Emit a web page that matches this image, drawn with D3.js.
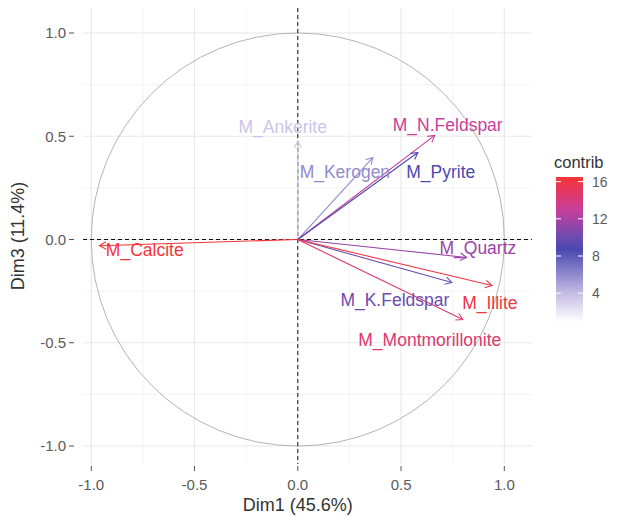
<!DOCTYPE html>
<html>
<head>
<meta charset="utf-8">
<script src="https://cdnjs.cloudflare.com/ajax/libs/d3/7.8.5/d3.min.js"></script>
<style>
  html, body { margin: 0; padding: 0; background: #fff; }
  svg { display: block; font-family: "Liberation Sans", Arial, sans-serif; }
</style>
</head>
<body>
<svg id="chart" width="619" height="516"></svg>
<script>
// ---- data ----
const variables = ["M_Calcite", "M_Ankerite", "M_Kerogen", "M_N.Feldspar", "M_Pyrite",
                   "M_Quartz", "M_K.Feldspar", "M_Illite", "M_Montmorillonite"];
const dim1 = [-0.96, 0.00, 0.363, 0.663, 0.581, 0.818, 0.746, 0.940, 0.799];
const dim3 = [-0.03, 0.475, 0.397, 0.504, 0.421, -0.087, -0.208, -0.223, -0.387];
const contrib = [16.4, 3.6, 6.0, 13.0, 8.8, 11.5, 10.0, 16.0, 14.5];
// label anchor positions (data units, as placed by repel)
const labelX = [-0.741, -0.073, 0.228, 0.726, 0.692, 0.872, 0.470, 0.930, 0.639];
const labelY = [-0.048, 0.547, 0.329, 0.557, 0.329, -0.039, -0.291, -0.305, -0.484];
const axisTicks = [-1.0, -0.5, 0.0, 0.5, 1.0];
const minorTicks = [-0.75, -0.25, 0.25, 0.75];
const legendTicks = [4, 8, 12, 16];
const contribRange = [0.9, 16.5];
const gradStops = [0.9, 4, 8.7, 10, 11.5, 13, 14.5, 16.5];
const gradColors = ["#ffffff", "#c4bce4", "#4a48b0", "#6c4cb0", "#9a44a8", "#c8409a", "#dc3870", "#f63434"];
const xTitle = "Dim1 (45.6%)";
const yTitle = "Dim3 (11.4%)";
const legendTitle = "contrib";

// ---- layout ----
const svg = d3.select("#chart");
const panel = { left: 83, right: 532, top: 8, bottom: 464 };
const x = d3.scaleLinear().domain([-1.04, 1.134]).range([panel.left, panel.right]);
const y = d3.scaleLinear().domain([-1.087, 1.121]).range([panel.bottom, panel.top]);

const color = d3.scaleLinear().domain(gradStops).range(gradColors).interpolate(d3.interpolateRgb).clamp(true);

// grid
const g = svg.append("g");
g.selectAll(".vminor").data(minorTicks).join("line")
  .attr("x1", d => x(d)).attr("x2", d => x(d))
  .attr("y1", panel.top).attr("y2", panel.bottom)
  .attr("stroke", "#f0f0f0").attr("stroke-width", 0.8);
g.selectAll(".hminor").data(minorTicks).join("line")
  .attr("y1", d => y(d)).attr("y2", d => y(d))
  .attr("x1", panel.left).attr("x2", panel.right)
  .attr("stroke", "#f0f0f0").attr("stroke-width", 0.8);
g.selectAll(".vmajor").data(axisTicks).join("line")
  .attr("x1", d => x(d)).attr("x2", d => x(d))
  .attr("y1", panel.top).attr("y2", panel.bottom)
  .attr("stroke", "#e8e8e8").attr("stroke-width", 1.1);
g.selectAll(".hmajor").data(axisTicks).join("line")
  .attr("y1", d => y(d)).attr("y2", d => y(d))
  .attr("x1", panel.left).attr("x2", panel.right)
  .attr("stroke", "#e8e8e8").attr("stroke-width", 1.1);

// circle
svg.append("ellipse")
  .attr("cx", x(0)).attr("cy", y(0))
  .attr("rx", x(1) - x(0)).attr("ry", y(0) - y(1))
  .attr("fill", "none").attr("stroke", "#b4b4b4").attr("stroke-width", 1);

// dashed axes
svg.append("line").attr("x1", panel.left).attr("x2", panel.right)
  .attr("y1", y(0)).attr("y2", y(0))
  .attr("stroke", "#111").attr("stroke-width", 1).attr("stroke-dasharray", "4,3");
svg.append("line").attr("y1", panel.top).attr("y2", panel.bottom)
  .attr("x1", x(0)).attr("x2", x(0))
  .attr("stroke", "#111").attr("stroke-width", 1).attr("stroke-dasharray", "4,3");

// arrows
const data = variables.map((v, i) => ({ name: v, x: dim1[i], y: dim3[i], c: contrib[i], lx: labelX[i], ly: labelY[i] }));
const arrowG = svg.append("g");
data.forEach(d => {
  const x0 = x(0), y0 = y(0), x1 = x(d.x), y1 = y(d.y);
  const col = color(d.c);
  arrowG.append("line").attr("x1", x0).attr("y1", y0).attr("x2", x1).attr("y2", y1)
    .attr("stroke", col).attr("stroke-width", 1.1);
  const ang = Math.atan2(y1 - y0, x1 - x0);
  const L = 7.5, a = Math.PI / 6;
  const p1 = [x1 - L * Math.cos(ang - a), y1 - L * Math.sin(ang - a)];
  const p2 = [x1 - L * Math.cos(ang + a), y1 - L * Math.sin(ang + a)];
  arrowG.append("path")
    .attr("d", `M${p1[0]},${p1[1]}L${x1},${y1}L${p2[0]},${p2[1]}`)
    .attr("fill", "none").attr("stroke", col).attr("stroke-width", 1.1);
});
svg.append("g").selectAll("text").data(data).join("text")
  .attr("x", d => x(d.lx)).attr("y", d => y(d.ly))
  .attr("dy", "0.36em").attr("text-anchor", "middle")
  .attr("font-size", 17.5).attr("fill", d => color(d.c))
  .text(d => d.name);

// axes ticks and labels
const fmt = v => v.toFixed(1);
const axG = svg.append("g");
axisTicks.forEach(t => {
  axG.append("line").attr("x1", 69).attr("x2", 74).attr("y1", y(t)).attr("y2", y(t))
    .attr("stroke", "#555").attr("stroke-width", 1);
  axG.append("text").attr("x", 66).attr("y", y(t)).attr("dy", "0.36em")
    .attr("text-anchor", "end").attr("font-size", 15).attr("fill", "#5a5a5a")
    .text(fmt(t));
  axG.append("line").attr("y1", 466).attr("y2", 471).attr("x1", x(t)).attr("x2", x(t))
    .attr("stroke", "#555").attr("stroke-width", 1);
  axG.append("text").attr("x", x(t)).attr("y", 490)
    .attr("text-anchor", "middle").attr("font-size", 15).attr("fill", "#5a5a5a")
    .text(fmt(t));
});
svg.append("text").attr("x", x(0)).attr("y", 511).attr("text-anchor", "middle")
  .attr("font-size", 18).attr("fill", "#333").text(xTitle);
svg.append("text").attr("transform", `translate(24,${(panel.top + panel.bottom) / 2}) rotate(-90)`)
  .attr("text-anchor", "middle").attr("font-size", 18).attr("fill", "#333").text(yTitle);

// legend
const leg = { x: 556, w: 27, top: 177, bottom: 322 };
const ly = d3.scaleLinear().domain(contribRange).range([leg.bottom, leg.top]);
const defs = svg.append("defs");
const grad = defs.append("linearGradient").attr("id", "cgrad")
  .attr("x1", 0).attr("y1", 1).attr("x2", 0).attr("y2", 0);
d3.range(0, 1.0001, 0.025).forEach(f => {
  const v = contribRange[0] + f * (contribRange[1] - contribRange[0]);
  grad.append("stop").attr("offset", f).attr("stop-color", color(v));
});
svg.append("rect").attr("x", leg.x).attr("y", leg.top).attr("width", leg.w)
  .attr("height", leg.bottom - leg.top).attr("fill", "url(#cgrad)");
legendTicks.forEach(t => {
  svg.append("line").attr("x1", leg.x).attr("x2", leg.x + 5).attr("y1", ly(t)).attr("y2", ly(t))
    .attr("stroke", "#fff").attr("stroke-width", 1);
  svg.append("line").attr("x1", leg.x + leg.w - 5).attr("x2", leg.x + leg.w).attr("y1", ly(t)).attr("y2", ly(t))
    .attr("stroke", "#fff").attr("stroke-width", 1);
  svg.append("text").attr("x", leg.x + leg.w + 9).attr("y", ly(t)).attr("dy", "0.36em")
    .attr("font-size", 14).attr("fill", "#5a5a5a").text(t);
});
svg.append("text").attr("x", leg.x - 2).attr("y", 168).attr("font-size", 16.5)
  .attr("fill", "#333").text(legendTitle);
</script>
</body>
</html>
